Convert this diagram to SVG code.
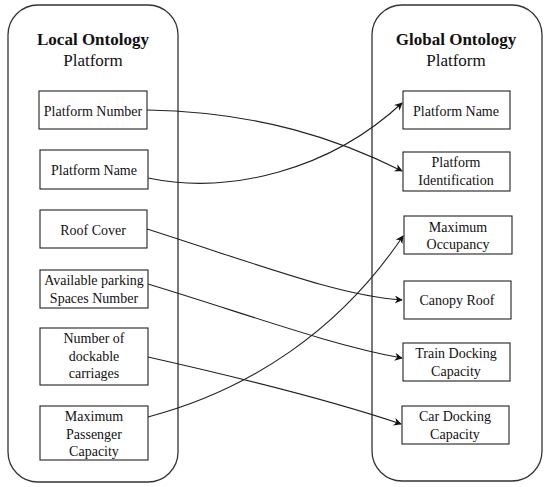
<svg xmlns="http://www.w3.org/2000/svg" width="550" height="487" viewBox="0 0 550 487">
<defs>
<style>
.cont{fill:#fff;stroke:#333;stroke-width:1.3}
.box{fill:#fff;stroke:#222;stroke-width:1.1}
.t{font-family:"Liberation Serif","Times New Roman",serif;font-size:14px;fill:#111;text-anchor:middle}
.title{font-family:"Liberation Serif","Times New Roman",serif;font-size:17px;fill:#111;text-anchor:middle}
.b{font-weight:bold}
.edge{fill:none;stroke:#222;stroke-width:1.1;marker-end:url(#arr)}
</style>
<marker id="arr" viewBox="0 0 10 10" refX="9" refY="5" markerWidth="8" markerHeight="8" markerUnits="userSpaceOnUse" orient="auto">
<path d="M0,0 L10,5 L0,10 L3,5 Z" fill="#111"/>
</marker>
</defs>
<rect width="550" height="487" fill="#fff"/>
<g id="local">
<rect class="cont" x="8" y="5" width="170" height="477" rx="30" ry="30"/>
<text class="title b" x="93" y="45">Local Ontology</text>
<text class="title" x="93" y="66">Platform</text>
</g>
<g id="global">
<rect class="cont" x="372" y="5" width="170" height="476" rx="30" ry="30"/>
<text class="title b" x="456" y="45">Global Ontology</text>
<text class="title" x="456" y="66">Platform</text>
</g>
<g id="l-platform-number"><rect class="box" x="39" y="91" width="108" height="38"/><text class="t" x="93" y="116">Platform Number</text></g>
<g id="l-platform-name"><rect class="box" x="40" y="150" width="108" height="39"/><text class="t" x="94" y="175">Platform Name</text></g>
<g id="l-roof-cover"><rect class="box" x="40" y="210" width="107" height="38"/><text class="t" x="93" y="235">Roof Cover</text></g>
<g id="l-available-parking"><rect class="box" x="40" y="270" width="108" height="38"/><text class="t" x="94" y="285">Available parking</text><text class="t" x="94" y="303">Spaces Number</text></g>
<g id="l-dockable"><rect class="box" x="40" y="328" width="108" height="57"/><text class="t" x="94" y="343">Number of</text><text class="t" x="94" y="361">dockable</text><text class="t" x="94" y="378">carriages</text></g>
<g id="l-max-passenger"><rect class="box" x="40" y="406" width="108" height="54"/><text class="t" x="94" y="421">Maximum</text><text class="t" x="94" y="439">Passenger</text><text class="t" x="94" y="456">Capacity</text></g>
<g id="g-platform-name"><rect class="box" x="403" y="91" width="107" height="38"/><text class="t" x="456" y="116">Platform Name</text></g>
<g id="g-platform-id"><rect class="box" x="403" y="152" width="107" height="39"/><text class="t" x="456" y="167">Platform</text><text class="t" x="456" y="185">Identification</text></g>
<g id="g-max-occupancy"><rect class="box" x="404" y="216" width="108" height="38"/><text class="t" x="458" y="232">Maximum</text><text class="t" x="458" y="249">Occupancy</text></g>
<g id="g-canopy-roof"><rect class="box" x="404" y="281" width="107" height="38"/><text class="t" x="457" y="305">Canopy Roof</text></g>
<g id="g-train-docking"><rect class="box" x="403" y="343" width="107" height="38"/><text class="t" x="456" y="358">Train Docking</text><text class="t" x="456" y="376">Capacity</text></g>
<g id="g-car-docking"><rect class="box" x="402" y="406" width="107" height="38"/><text class="t" x="455" y="421">Car Docking</text><text class="t" x="455" y="439">Capacity</text></g>
<g id="connectors">
<path class="edge" d="M147,110 C260,112 340,140 402,171"/>
<path class="edge" d="M148,178 C230,195 330,170 402,103"/>
<path class="edge" d="M147,229 C260,265 340,296 402,300"/>
<path class="edge" d="M148,284 C250,315 330,345 402,358"/>
<path class="edge" d="M148,357 C250,380 330,400 401,424"/>
<path class="edge" d="M148,417 C250,390 340,330 403,236"/>
</g>
</svg>
